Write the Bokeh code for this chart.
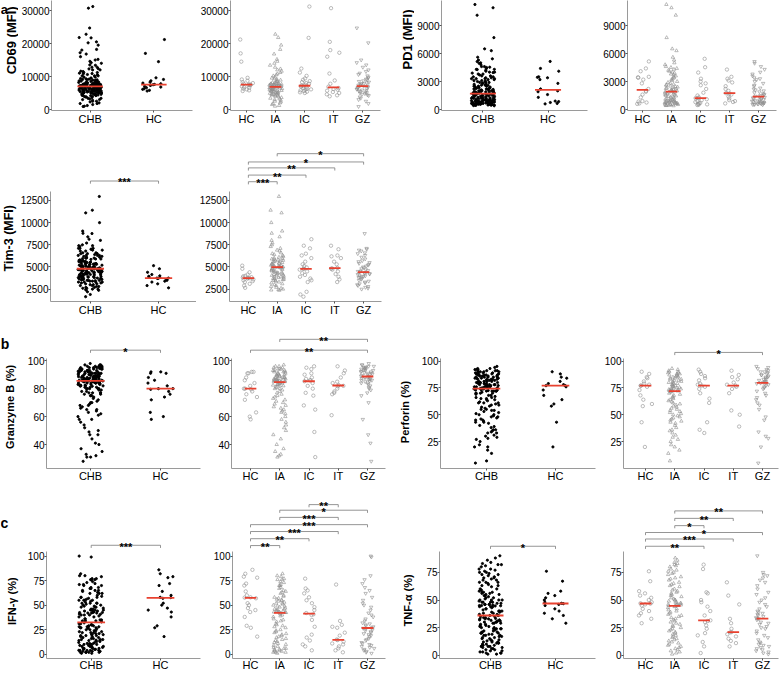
import numpy as np
from bokeh.plotting import figure
from bokeh.models import Range1d, FixedTicker, ColumnDataSource
from bokeh.layouts import row, column
from bokeh.transform import jitter
from bokeh.core.properties import value
from bokeh.embed import file_html
from bokeh.resources import INLINE

FONT = "Liberation Sans"
RED = "#E8412F"
GREY_PT = "#8e8e8e"
AXIS_GREY = "#9a9a9a"
BRACKET_GREY = "#7a7a7a"

CMP_GROUPS = ["CHB", "HC"]
SUB_GROUPS = ["HC", "IA", "IC", "IT", "GZ"]
SUB_MARKERS = {"HC": "circle", "IA": "triangle", "IC": "circle", "IT": "circle", "GZ": "inverted_triangle"}

# ---------------- data ----------------
CD69_HC = [21200, 17000, 14500, 9600, 9100, 8700, 8300, 8000, 7800, 7600, 7500, 7400, 7300, 7000, 6800, 6600, 6300, 6100, 5800, 5600]
CD69_IA = [22800, 21800, 19500, 18200, 16800, 15200, 14600, 14000, 13400, 12800, 12300, 12000, 11600, 11200, 10800,
           10500, 10200, 9800, 9500, 9300, 9100, 8900, 8700, 8500, 8300, 8200, 8100, 7900, 7850, 7800, 7700, 7650,
           7600, 7500, 7450, 7400, 7300, 7250, 7200, 7150, 7100, 7050, 7000, 7000, 6950, 6800, 6750, 6700, 6600,
           6500, 6450, 6400, 6300, 6200, 6150, 6100, 6000, 5900, 5800, 5750, 5700, 5600, 5500, 5400, 5300, 5200,
           5100, 5000, 4900, 4800, 4700, 4600, 4500, 4400, 4300, 4200, 4000, 3800, 3600, 3400, 3200, 3000, 2800,
           2500, 2300, 2000, 1800, 1500, 1200, 1000]
CD69_IC = [31200, 21700, 12400, 11200, 10200, 9400, 9000, 8600, 8300, 8000, 7800, 7500, 7200, 7100, 6900, 6700, 6500,
           6300, 6100, 6000, 5800, 5600, 5400, 5200, 5000]
CD69_IT = [30700, 20500, 18000, 17200, 16000, 10900, 8800, 7800, 6900, 6500, 6200, 6000, 5700, 5300, 5000, 4600, 4300, 4000]
CD69_GZ = [24700, 20200, 15000, 14200, 13500, 12800, 12000, 11500, 11000, 10600, 10200, 9800, 9500, 9200, 9000, 8700,
           8500, 8300, 8100, 7900, 7800, 7600, 7400, 7300, 7150, 7050, 6900, 6800, 6700, 6500, 6400, 6200, 6100, 5900,
           5800, 5600, 5500, 5300, 5100, 5000, 4800, 4600, 4400, 4200, 3800, 3400, 3000, 2500, 1800, 900]

PD1_HC = [5150, 4400, 4100, 3500, 3450, 3400, 3200, 2800, 2200, 2000, 1900, 1600, 1300, 900, 850, 750, 650, 600]
PD1_IA = [11250, 10900, 10100, 7700, 6500, 6300, 5600, 5300, 5000, 4800, 4600, 4500, 4400, 4300, 4200, 4100, 4000,
          3900, 3800, 3700, 3600, 3500, 3400, 3300, 3200, 3100, 3000, 2900, 2800, 2700, 2650, 2600, 2500, 2450, 2400,
          2350, 2300, 2250, 2200, 2150, 2100, 2050, 2000, 1980, 1950, 1900, 1870, 1850, 1800, 1750, 1700, 1650, 1600,
          1550, 1500, 1450, 1400, 1350, 1300, 1250, 1200, 1150, 1100, 1050, 1000, 980, 950, 920, 900, 880, 850, 820,
          800, 780, 750, 720, 700, 680, 650, 620, 600, 580, 550, 530, 500, 480, 460, 440, 420, 400]
PD1_IC = [5430, 4530, 3960, 3300, 3000, 2800, 2600, 2200, 1800, 1500, 1300, 1220, 1200, 1100, 1000, 900, 800, 700,
          650, 600, 550, 500, 480]
PD1_IT = [4280, 3500, 3300, 3100, 2900, 2500, 2200, 2000, 1750, 1700, 1600, 1400, 1200, 1000, 900, 800, 650]
PD1_GZ = [5140, 4950, 4600, 4300, 4000, 3800, 3600, 3400, 3300, 3200, 3000, 2800, 2600, 2500, 2300, 2200, 2100, 2000,
          1900, 1800, 1700, 1600, 1550, 1500, 1420, 1360, 1300, 1250, 1200, 1150, 1100, 1050, 1000, 950, 900, 870,
          840, 800, 770, 740, 700, 680, 650, 620, 600, 580, 560, 540, 520, 500]

TIM3_HC = [5150, 4800, 4400, 4150, 4000, 3950, 3850, 3800, 3750, 3750, 3700, 3600, 3500, 3400, 3300, 3100, 2900, 2650]
TIM3_IA = [12950, 11400, 11100, 10000, 9050, 8800, 8400, 8000, 7700, 7500, 7300, 7100, 6900, 6800, 6600, 6500, 6400,
           6300, 6200, 6100, 6000, 5950, 5900, 5850, 5800, 5750, 5700, 5650, 5600, 5550, 5500, 5450, 5400, 5350,
           5300, 5250, 5200, 5150, 5100, 5070, 5050, 5030, 5010, 5000, 4990, 4970, 4930, 4900, 4850, 4800, 4750,
           4700, 4650, 4600, 4550, 4500, 4450, 4400, 4350, 4300, 4250, 4200, 4150, 4100, 4050, 4000, 3950, 3900,
           3850, 3800, 3750, 3700, 3650, 3600, 3550, 3500, 3450, 3400, 3300, 3200, 3100, 3000, 2900, 2800, 2700,
           2600, 2500, 2450, 2400, 2370]
TIM3_IC = [8130, 7400, 7100, 6500, 6300, 6000, 5600, 5300, 5100, 4950, 4800, 4790, 4700, 4500, 4300, 4100, 3900, 3700,
           3500, 3300, 2200, 1900, 1650]
TIM3_IT = [7400, 7000, 6300, 6200, 6000, 5600, 5300, 4900, 4850, 4800, 4700, 4500, 4200, 3900, 3600, 3300]
TIM3_GZ = [8770, 7100, 7000, 6900, 6800, 6600, 6500, 6300, 6100, 5900, 5700, 5600, 5500, 5400, 5300, 5200, 5100, 5000,
           4900, 4800, 4700, 4600, 4550, 4500, 4450, 4400, 4350, 4300, 4250, 4200, 4150, 4100, 4000, 3950, 3900, 3850,
           3800, 3700, 3600, 3500, 3400, 3300, 3200, 3100, 3000, 2900, 2800, 2700, 2600, 2500]

GZB_HC = [92, 92, 91, 91, 88, 86, 84, 82, 80, 80, 79.5, 78, 76, 74, 72, 63, 60, 58]
GZB_IA = [97, 96, 96, 95, 95, 94, 94, 94, 93, 93, 93, 92, 92, 92, 91, 91, 91, 90, 90, 90, 89, 89, 89, 89, 88, 88, 88,
          88, 87, 87, 87, 87, 86, 86, 86, 86, 86, 85.5, 85.5, 85.5, 85, 85, 85, 85, 84.8, 84.6, 84, 84, 83.5, 83, 83,
          82.5, 82, 82, 81, 81, 80, 80, 79, 78, 77, 76, 75, 74, 73, 72, 71, 70, 69, 68, 67, 66, 65, 64, 63, 62, 60,
          58, 56, 54, 52, 50, 47, 44, 40, 37, 35, 33, 32, 31]
GZB_IC = [96, 95, 94, 91, 90, 88, 87, 86, 86, 85.3, 84, 82, 80, 77, 75, 68, 65, 49, 31]
GZB_IT = [96, 93, 91, 88, 85, 84, 82.5, 82, 81.7, 80, 78, 77, 76, 61]
GZB_GZ = [98, 97, 97, 96, 96, 95.5, 95, 95, 94.5, 94, 94, 93.5, 93, 93, 92.5, 92, 92, 91.5, 91, 91, 90.5, 90, 89.5, 89,
          88.8, 88.6, 88, 88, 87.5, 87, 87, 86.5, 86, 86, 85.5, 85, 84, 84, 83, 82, 81, 80, 79, 77, 75, 70, 58, 47,
          41, 28]

PRF_HC = [90, 88, 85, 84, 81, 79, 78, 77.1, 77, 76, 73, 68, 64, 60, 58, 43, 20]
PRF_IA = [93, 92, 91, 90, 90, 89, 89, 88, 88, 87, 87, 86, 86, 85, 85, 84, 84, 83, 83, 82, 82, 81, 81, 80, 80, 79, 79,
          78, 78, 77, 77, 76, 76, 75.5, 75, 74.5, 74, 74, 73.5, 73, 73, 72.5, 72.5, 72, 72, 71.8, 71, 70, 69, 68, 67,
          66, 65, 64, 63, 62, 61, 60, 59, 58, 57, 56, 55, 54, 53, 52, 51, 50, 49, 48, 47, 46, 45, 44, 43, 42, 40, 38,
          36, 35, 33, 31, 29, 27, 25, 22, 20, 17, 14, 7]
PRF_IC = [92, 90, 88, 86, 84, 82, 79, 78, 77.1, 76, 74, 70, 65, 61, 43, 36, 33]
PRF_IT = [91, 87, 85, 83, 80, 78, 77.1, 76, 74, 70, 54, 50, 39]
PRF_GZ = [95, 94, 93, 92, 91, 90, 90, 89, 88, 87, 87, 86, 85, 85, 84, 83, 83, 82, 81, 81, 80, 79.8, 79.4, 79, 78, 77,
          76, 75, 74, 72, 70, 68, 66, 64, 61, 59, 55, 48, 45, 34, 30, 28, 20, 5]

IFN_HC = [86, 82, 79, 78, 72, 70, 64, 60, 58, 57.7, 57, 52, 50, 47, 45, 43, 38, 29, 27, 18]
IFN_IA = [82, 80, 79, 77, 76, 76, 74, 73, 71, 70, 70, 68, 67, 65, 64, 63, 62, 60, 59, 58, 57, 56, 55, 55, 54, 53, 52,
          52, 51, 50, 49, 49, 48, 47, 46, 46, 45, 45, 44, 44, 43, 43, 43, 42.5, 42.5, 42, 41, 40, 39, 38, 36, 35, 34,
          33, 31, 30, 29, 28, 27, 25, 24, 23, 22, 21, 20, 19, 18, 17, 16, 15, 14, 13, 12, 11, 10, 9, 8, 7, 6, 6, 5,
          5, 4, 4, 3, 3, 2, 2, 2, 1]
IFN_IC = [77, 67, 65, 62, 58, 55, 52, 48, 45, 42, 40.7, 40, 35, 28, 20, 17, 14, 10, 8, 4]
IFN_IT = [71, 34, 30, 28, 27, 22, 19, 15, 14.4, 13, 11, 10, 8, 6, 4, 2]
IFN_GZ = [100, 99, 80, 76, 72, 68, 65, 62, 58, 55, 52, 50, 48, 45, 42, 40, 38, 36, 34, 32, 31, 30, 29, 28, 27, 26.5,
          26, 25, 24, 23, 22, 21, 20, 19, 18, 16, 15, 14, 12, 11, 10, 9, 8, 7, 6, 5, 4, 3, 2, 1]

TNF_HC = [76, 67, 58, 56, 54, 52, 50, 48, 47, 46.7, 46, 45, 42, 40, 38, 36, 33, 29]
TNF_IA = [88, 86, 84, 83, 82, 81, 80, 78, 77, 76, 75, 74, 73, 71, 70, 69, 68, 66, 65, 64, 63, 62, 60, 59, 58, 57, 56,
          55, 54, 53, 52, 51, 50, 50, 49, 48, 48, 47, 47, 46, 46, 45.5, 45, 45, 44.8, 44.6, 44, 43, 42, 41, 40, 39,
          38, 37, 36, 35, 34, 33, 32, 31, 30, 29, 28, 27, 26, 25, 24, 23, 22, 21, 20, 19, 18, 17, 16, 15, 14, 13, 12,
          11, 10, 9, 8, 7, 6, 5, 4, 3, 2, 1]
TNF_IC = [82, 78, 57, 56, 50, 48, 44, 40, 36, 31.6, 31, 30, 27, 24, 20, 18, 12, 8, 2]
TNF_IT = [66, 54, 46, 33, 29, 24, 21, 20.7, 19, 17, 15, 13, 11, 8]
TNF_GZ = [90, 75, 73, 72, 70, 68, 66, 63, 60, 57, 55, 52, 50, 48, 46, 44, 42, 40, 39, 38, 37, 36, 35, 34, 33.3, 32.9,
          32, 30, 29, 28, 26, 25, 24, 22, 20, 18, 16, 14, 12, 11, 10, 9, 8, 7, 6, 5, 4, 3, 2, 1]


def subsets(hc, ia, ic, it, gz):
    return {"HC": hc, "IA": ia, "IC": ic, "IT": it, "GZ": gz, "CHB": ia + ic + it + gz}


DATA = {
    "CD69": subsets(CD69_HC, CD69_IA, CD69_IC, CD69_IT, CD69_GZ),
    "PD1": subsets(PD1_HC, PD1_IA, PD1_IC, PD1_IT, PD1_GZ),
    "TIM3": subsets(TIM3_HC, TIM3_IA, TIM3_IC, TIM3_IT, TIM3_GZ),
    "GZB": subsets(GZB_HC, GZB_IA, GZB_IC, GZB_IT, GZB_GZ),
    "PRF": subsets(PRF_HC, PRF_IA, PRF_IC, PRF_IT, PRF_GZ),
    "IFN": subsets(IFN_HC, IFN_IA, IFN_IC, IFN_IT, IFN_GZ),
    "TNF": subsets(TNF_HC, TNF_IA, TNF_IC, TNF_IT, TNF_GZ),
}

Y_TICKS = {
    "CD69": [0, 10000, 20000, 30000],
    "PD1": [0, 3000, 6000, 9000],
    "TIM3": [2500, 5000, 7500, 10000, 12500],
    "GZB": [40, 60, 80, 100],
    "PRF": [25, 50, 75, 100],
    "IFN": [0, 25, 50, 75, 100],
    "TNF": [0, 25, 50, 75],
}

# ---------------- layout (reference pixel geometry) ----------------
CALIB = {
    "CD69": ((0, 109), (30000, 10)),
    "PD1": ((0, 109), (9000, 25)),
    "TIM3": ((2500, 290.5), (12500, 200.7)),
    "GZB": ((40, 445.7), (100, 360.7)),
    "PRF": ((25, 442.7), (100, 361)),
    "IFN": ((0, 656.7), (100, 556.7)),
    "TNF": ((0, 657.7), (75, 573.3)),
}


def ix(x):
    return int(round(x))


def build(key, kind, edges, rowv, frame_x, centers, fonts, brackets=()):
    l, r = edges
    t, ft, dt, db, b = rowv
    fl, fr = frame_x
    groups = CMP_GROUPS if kind == "cmp" else SUB_GROUPS
    n = len(groups)
    p = figure(width=ix(r) - ix(l), height=ix(b) - ix(t), output_backend="svg", toolbar_location=None,
               min_border_left=ix(fl) - ix(l), min_border_right=ix(r) - ix(fr),
               min_border_top=ix(ft) - ix(t), min_border_bottom=ix(b) - ix(db))
    (va, pa), (vb, pb) = CALIB[key]

    def val(s):
        return va + (s - pa) * (vb - va) / (pb - pa)

    p.y_range = Range1d(val(ix(db)), val(ix(ft)))
    c1, cn = centers
    u = (cn - c1) / (n - 1)
    p.x_range = Range1d(1 - (c1 - ix(fl)) / u, n + (ix(fr) - cn) / u)

    p.grid.visible = False
    p.outline_line_color = None
    p.background_fill_color = "white"
    p.border_fill_color = "white"
    xa = p.xaxis[0]
    ya = p.yaxis[0]
    xa.ticker = FixedTicker(ticks=list(range(1, n + 1)))
    xa.major_label_overrides = {i + 1: g for i, g in enumerate(groups)}
    ya.ticker = FixedTicker(ticks=Y_TICKS[key])
    ya.bounds = (val(ix(db)), val(dt))
    for ax in (xa, ya):
        ax.axis_line_color = AXIS_GREY
        ax.axis_line_width = 1
        ax.major_tick_line_color = "#555555"
        ax.major_tick_out = 2
        ax.major_tick_in = 0
        ax.minor_tick_line_color = None
        ax.major_label_text_font = FONT
        ax.major_label_text_color = "black"
    xa.major_label_text_font_size = fonts["cat"]
    xa.major_label_standoff = fonts["xstand"]
    ya.major_label_text_font_size = fonts["tick"]
    ya.major_label_standoff = 0

    vals = DATA[key]
    if kind == "cmp":
        xs, ys = [], []
        for i, g in enumerate(groups):
            xs += [i + 1] * len(vals[g])
            ys += list(vals[g])
        src = ColumnDataSource(dict(x=xs, y=ys))
        p.scatter(x=jitter("x", width=0.36), y="y", source=src, size=2.2, color="black")
    else:
        for i, g in enumerate(groups):
            src = ColumnDataSource(dict(x=[i + 1] * len(vals[g]), y=list(vals[g])))
            p.scatter(x=jitter("x", width=0.46), y="y", source=src, marker=SUB_MARKERS[g], size=3.4,
                      fill_color=None, line_color=GREY_PT, line_width=0.6)
    meds = [float(np.median(vals[g])) for g in groups]
    msrc = ColumnDataSource(dict(x0=[i + 1 - 0.2 for i in range(n)], x1=[i + 1 + 0.2 for i in range(n)], y=meds))
    p.segment(x0="x0", y0="y", x1="x1", y1="y", source=msrc, line_color=RED, line_width=1.8)

    if brackets:
        bxs, bys, tx, ty, tt = [], [], [], [], []
        for g1, g2, lab, ly in brackets:
            a, c = groups.index(g1) + 1, groups.index(g2) + 1
            yl = val(ly)
            ytip = val(ly + 2.7)
            bxs.append([a, a, c, c])
            bys.append([ytip, yl, yl, ytip])
            tx.append((a + c) / 2)
            ty.append(val(ly + 1.5))
            tt.append(lab)
        p.multi_line(xs="xs", ys="ys", source=ColumnDataSource(dict(xs=bxs, ys=bys)),
                     line_color=BRACKET_GREY, line_width=0.8)
        p.text(x="x", y="y", text="t", source=ColumnDataSource(dict(x=tx, y=ty, t=tt)),
               text_font=value(FONT), text_font_size="11px", text_font_style="bold",
               text_align="center", text_baseline="alphabetic", text_color="black")
    return p


def build_titles(edges, rowv, items):
    """Blank strip that carries the rotated y-axis titles and the panel letters."""
    l, r = edges
    t, _, _, _, b = rowv
    w, h = ix(r) - ix(l), ix(b) - ix(t)
    p = figure(width=w, height=h, output_backend="svg", toolbar_location=None,
               x_range=Range1d(ix(l), ix(r)), y_range=Range1d(0, h),
               x_axis_type=None, y_axis_type=None,
               min_border_left=0, min_border_right=0, min_border_top=0, min_border_bottom=0)
    p.grid.visible = False
    p.outline_line_color = None
    p.background_fill_color = "white"
    p.border_fill_color = "white"
    for text, x, y, size, rotated in items:
        p.text(x=[x], y=[ix(b) - y], text=[text], angle=(np.pi / 2 if rotated else 0),
               text_font=value(FONT), text_font_size=size, text_font_style="bold",
               text_align="center", text_baseline=("middle" if rotated else "alphabetic"),
               text_color="black")
    return p


FONTS_A = {"cat": "11px", "tick": "10px", "xstand": 0}
FONTS_T = {"cat": "11px", "tick": "10px", "xstand": 0}
FONTS_B = {"cat": "11px", "tick": "10px", "xstand": -1}
FONTS_C = {"cat": "11px", "tick": "10px", "xstand": -2}

# fig top, frame top, data top, data bottom (= frame bottom), fig bottom
ROW_A = (0, 0, 0, 110.5, 127)
ROW_T = (127, 142, 192, 303, 318)
ROW_B = (318, 326, 358, 470, 484)
ROW_C = (484, 494, 552, 661, 673)

TIM3_BR_L = [("CHB", "HC", "***", 181)]
TIM3_BR_R = [("IA", "GZ", "*", 153.3), ("HC", "GZ", "*", 161.7), ("HC", "IT", "**", 167.7),
             ("HC", "IC", "**", 175), ("HC", "IA", "***", 181.7)]
GZB_BR_L = [("CHB", "HC", "*", 350)]
GZB_BR_R = [("IA", "GZ", "**", 339), ("HC", "GZ", "**", 350)]
PRF_BR_R = [("IA", "GZ", "*", 352.3)]
IFN_BR_L = [("CHB", "HC", "***", 545.7)]
IFN_BR_R = [("IC", "IT", "**", 504.3), ("IA", "GZ", "*", 510), ("IA", "IT", "***", 517.3),
            ("HC", "GZ", "***", 524.7), ("HC", "IT", "***", 531.7), ("HC", "IC", "**", 539),
            ("HC", "IA", "**", 546)]
TNF_BR_L = [("CHB", "HC", "*", 546.7)]
TNF_BR_R = [("IA", "GZ", "**", 510.7), ("IA", "IT", "**", 518.3), ("IA", "IC", "*", 525.7),
            ("HC", "GZ", "*", 532.7), ("HC", "IT", "***", 539.3), ("HC", "IC", "**", 546.7)]

row_a = row(
    build_titles((0, 18), ROW_A, [("CD69 (MFI)", 10.5, 46, "13px", True), ("a", 3.8, 10.5, "13px", False)]),
    build("CD69", "cmp", (18, 194), ROW_A, (46, 192), (86, 152), FONTS_A),
    build("CD69", "sub", (194, 384), ROW_A, (230, 380), (246, 362), FONTS_A),
    build_titles((384, 414), ROW_A, [("PD1 (MFI)", 406.5, 45, "13px", True)]),
    build("PD1", "cmp", (414, 592), ROW_A, (439, 587), (481, 547), FONTS_A),
    build("PD1", "sub", (592, 780), ROW_A, (627, 776), (642, 758), FONTS_A),
)
row_t = row(
    build_titles((0, 17), ROW_T, [("Tim-3 (MFI)", 8.5, 242, "12.5px", True)]),
    build("TIM3", "cmp", (17, 196), ROW_T, (46, 196), (87, 157), FONTS_T, brackets=TIM3_BR_L),
    build("TIM3", "sub", (196, 384), ROW_T, (228, 381), (247, 363), FONTS_T, brackets=TIM3_BR_R),
)
row_b = row(
    build_titles((0, 20), ROW_B, [("Granzyme B (%)", 9.5, 412, "11px", True), ("b", 4.5, 338, "14px", False)]),
    build("GZB", "cmp", (20, 202), ROW_B, (46, 200), (90, 160), FONTS_B, brackets=GZB_BR_L),
    build("GZB", "sub", (202, 388), ROW_B, (231, 385), (250, 367), FONTS_B, brackets=GZB_BR_R),
    build_titles((388, 418), ROW_B, [("Perforin (%)", 404.5, 418, "11px", True)]),
    build("PRF", "cmp", (418, 600), ROW_B, (440, 595), (486, 555), FONTS_B),
    build("PRF", "sub", (600, 780), ROW_B, (623, 778), (645, 762), FONTS_B, brackets=PRF_BR_R),
)
row_c = row(
    build_titles((0, 20), ROW_C, [("IFN-\u03b3 (%)", 11, 607, "11px", True), ("c", 4, 517, "14px", False)]),
    build("IFN", "cmp", (20, 202), ROW_C, (46, 200), (90.7, 160), FONTS_C, brackets=IFN_BR_L),
    build("IFN", "sub", (202, 388), ROW_C, (232, 385), (250, 367), FONTS_C, brackets=IFN_BR_R),
    build_titles((388, 418), ROW_C, [("TNF-\u03b1 (%)", 407.5, 606, "11px", True)]),
    build("TNF", "cmp", (418, 600), ROW_C, (439, 595), (490, 555), FONTS_C, brackets=TNF_BR_L),
    build("TNF", "sub", (600, 780), ROW_C, (623, 778), (645, 762), FONTS_C, brackets=TNF_BR_R),
)

layout = column(row_a, row_t, row_b, row_c)
open("out.html", "w").write(file_html(layout, INLINE))
